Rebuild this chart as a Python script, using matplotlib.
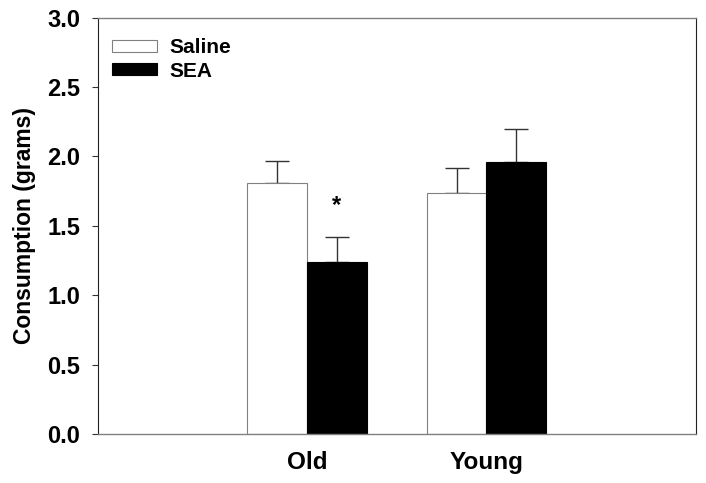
import matplotlib.pyplot as plt
import numpy as np

plt.rcParams['font.family'] = ['Liberation Sans', 'DejaVu Sans']
plt.rcParams['font.weight'] = 'bold'

# Values
groups = ['Old', 'Young']
saline_mean = [1.81, 1.74]
saline_sem = [0.16, 0.18]
sea_mean = [1.24, 1.96]
sea_sem = [0.18, 0.24]
sig_marks = ['*', '']  # over the SEA bars

x = np.arange(len(groups))
w = 0.334

fig = plt.figure(figsize=(7.06, 4.83), dpi=100)
ax = fig.add_axes([98 / 706, 1 - 434 / 483, (696 - 98) / 706, (434 - 17.7) / 483])

ax.bar(x - w / 2, saline_mean, w, color='white', edgecolor='#808080',
       linewidth=0.8, label='Saline', zorder=2)
ax.bar(x + w / 2, sea_mean, w, color='black', edgecolor='black',
       linewidth=0.8, label='SEA', zorder=2)

# upper error bars only
ax.errorbar(x - w / 2, saline_mean, yerr=[np.zeros(len(x)), saline_sem],
            fmt='none', ecolor='#333333', elinewidth=1, capsize=8.5,
            capthick=1, zorder=1)
ax.errorbar(x + w / 2, sea_mean, yerr=[np.zeros(len(x)), sea_sem],
            fmt='none', ecolor='#333333', elinewidth=1, capsize=8.5,
            capthick=1, zorder=1)

for xi, m, s, mark in zip(x + w / 2, sea_mean, sea_sem, sig_marks):
    if mark:
        ax.text(xi, m + s + 0.23, mark, ha='center', va='center',
                fontsize=17, fontweight='bold')

ax.set_xlim(-1.164, 2.167)
ax.set_ylim(0, 3.0)
ax.set_yticks(np.arange(0, 3.01, 0.5))
ax.set_yticklabels([f'{v:.1f}' for v in np.arange(0, 3.01, 0.5)])
ax.set_xticks(x)
ax.set_xticklabels(groups)
ax.tick_params(axis='x', length=0, pad=12, labelsize=17.5)
ax.tick_params(axis='y', length=4.3, width=0.8, direction='out', pad=8.6,
               labelsize=17, color='#333333')
ax.set_ylabel('Consumption (grams)', fontsize=16.5, fontweight='bold', labelpad=8)

for side in ['left', 'right']:
    ax.spines[side].set_color('#222222')
    ax.spines[side].set_linewidth(0.8)
for side in ['top', 'bottom']:
    ax.spines[side].set_color('#808080')
    ax.spines[side].set_linewidth(1.0)

ax.legend(loc='upper left', bbox_to_anchor=(0.0234, 0.951), frameon=False,
          handlelength=2.16, handleheight=0.53, handletextpad=0.58,
          labelspacing=0.22, borderaxespad=0, borderpad=0,
          prop={'weight': 'bold', 'size': 15})

fig.savefig('out.png', dpi=100)
